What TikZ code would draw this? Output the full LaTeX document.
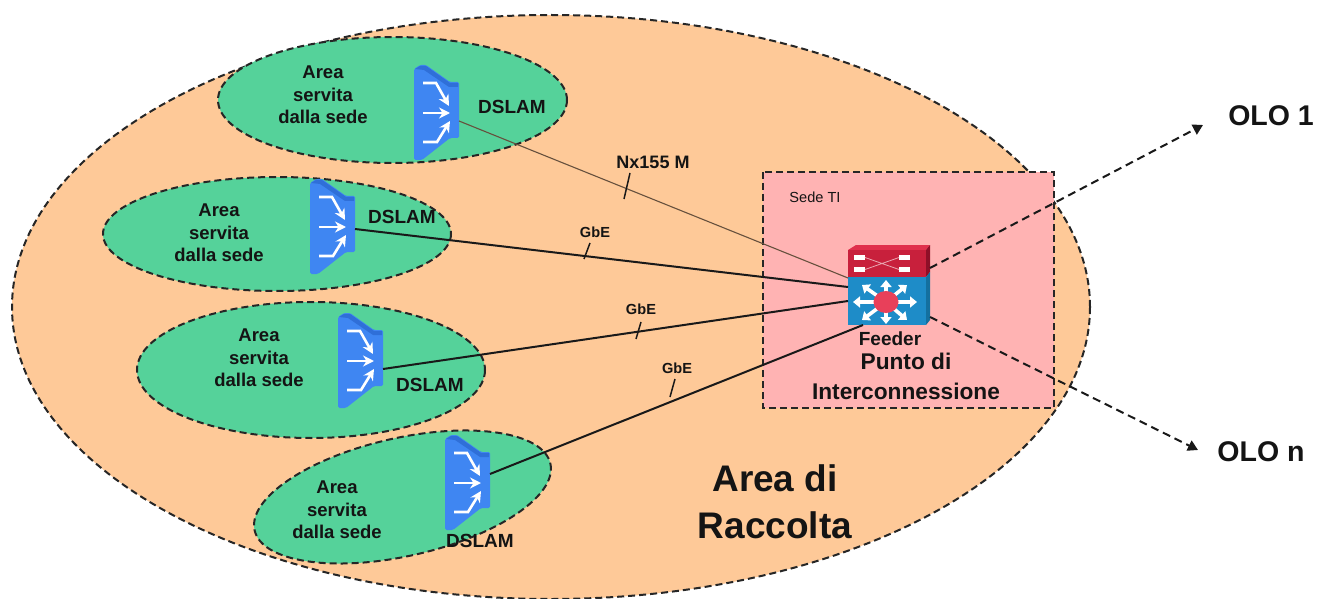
\documentclass[tikz,border=0pt]{standalone}
\usepackage{fontspec}
\setmainfont{Liberation Sans}
\usetikzlibrary{arrows.meta}
\definecolor{areaorange}{HTML}{FEC998}
\definecolor{areagreen}{HTML}{55D29A}
\definecolor{sedepink}{HTML}{FFB3B3}
\definecolor{iconblue}{HTML}{3F86F2}
\definecolor{iconbevel}{HTML}{2F6FD8}
\definecolor{swblue}{HTML}{1E8CC8}
\definecolor{swside}{HTML}{14709F}
\definecolor{swred}{HTML}{C8203C}
\definecolor{swtop}{HTML}{E0304C}
\definecolor{swdark}{HTML}{8E1028}
\definecolor{hubred}{HTML}{E8405A}
\definecolor{inktext}{HTML}{141414}
\tikzset{
  x=1pt,y=-1pt,
  areashape/.style={draw=black!85,line width=2pt,dash pattern=on 7pt off 4pt},
  lbl/.style={font=\bfseries\fontsize{#1}{#1}\selectfont,inner sep=0pt,align=center,text=inktext},
  area3/.style={font=\bfseries\fontsize{18.5}{22.5}\selectfont,inner sep=0pt,align=center,text=inktext},
  whitearrow/.style={draw=white,line width=2.6pt,-{Stealth[length=11pt,width=11pt]}},
  hubarrow/.style={draw=white,line width=3.6pt,-{Triangle[length=7pt,width=11pt]}},
  link/.style={draw=black!90,line width=2pt},
  thinlink/.style={draw=black!60!areaorange,line width=1.1pt},
  tick/.style={draw=black!90,line width=1.5pt},
  dashlink/.style={draw=black!90,line width=2pt,dash pattern=on 8pt off 5pt,-{Triangle[length=10pt,width=11pt]}},
}
\newcommand{\dslamicon}[4]{%
  \begin{scope}[shift={(#1,#2)}]
    \fill[iconblue,rounded corners=1.5pt] (0,4)--(6,0)--(12,0)--(36,17)--(45,17)--(45,73)--(36,73)--(8,95)--(0,95)--cycle;
    \fill[iconbevel] (1,4)--(6,1)--(12,1)--(36,18)--(44,18)--(44,22)--(35,22)--(10,5)--cycle;
    \draw[whitearrow] (9,18)--(22,18)--(35,41);
    \draw[whitearrow] (9,48)--(36,48);
    \draw[whitearrow] (9,77)--(23,77)--(36,56);
    \coordinate (#3) at (45,#4);
  \end{scope}}
\begin{document}
\begin{tikzpicture}
\useasboundingbox (0,0) rectangle (1318,599);
\fill[white] (0,0) rectangle (1318,599);
\draw[areashape,fill=areaorange] (551,307) ellipse [x radius=539,y radius=292];
\draw[areashape,fill=areagreen] (392.5,100) ellipse [x radius=174.5,y radius=63];
\draw[areashape,fill=areagreen] (277,234) ellipse [x radius=174,y radius=57];
\draw[areashape,fill=areagreen] (311,370) ellipse [x radius=174,y radius=68];
\draw[areashape,fill=areagreen,rotate around={12.7:(402.5,497)}] (402.5,497) ellipse [x radius=151.6,y radius=59];
\draw[areashape,fill=sedepink] (763,172) rectangle (1054,408);

\dslamicon{414}{65}{d1}{56}
\dslamicon{310}{179}{d2}{50}
\dslamicon{338}{313}{d3}{56}
\dslamicon{445}{435}{d4}{39}

% switch
\fill[swtop] (848,250)--(856,245)--(930,245)--(926,250)--cycle;
\fill[swred] (848,250) rectangle (926,277);
\fill[swdark] (926,250)--(930,245)--(930,272)--(926,277)--cycle;
\fill[swblue] (848,277) rectangle (926,325);
\fill[swside] (926,277)--(930,272)--(930,320)--(926,325)--cycle;
\foreach \a/\b in {854/255, 854/267, 899/255, 899/267}
  \fill[white] (\a,\b) rectangle (\a+11,\b+5);
\draw[white!60!swred,line width=.8pt] (865,257.5)--(899,269.5) (865,269.5)--(899,257.5);
\coordinate (swA) at (848,278);
\coordinate (swB) at (848,287);
\coordinate (swC) at (848,301);
\coordinate (swD) at (863,325);
\coordinate (swE) at (930,268);
\coordinate (swF) at (930,317);
\foreach \ex/\ey in {917/302, 853/302, 886/280, 886/324, 907/285, 862/285, 907/320, 862/320}
  \draw[hubarrow] (886,302)--(\ex,\ey);
\fill[hubred] (886,302) ellipse [x radius=12.5,y radius=11];
\node[inner sep=0pt,minimum size=0pt] (hub) at (886,302) {};

\coordinate (olo1) at (1203,125);
\coordinate (olon) at (1198,450);
\draw[thinlink] (d1)--(swA);
\draw[link] (d2)--(swB);
\draw[link] (d3)--(swC);
\draw[link] (d4)--(swD);
\draw[dashlink] (swE)--(olo1);
\draw[dashlink] (swF)--(olon);

\coordinate (t1a) at (624,199); \coordinate (t1b) at (630,173);
\coordinate (t2a) at (584,259); \coordinate (t2b) at (590,243);
\coordinate (t3a) at (636,339); \coordinate (t3b) at (641,322);
\coordinate (t4a) at (670,397); \coordinate (t4b) at (675,379);
\draw[tick] (t1a)--(t1b);
\draw[tick] (t2a)--(t2b);
\draw[tick] (t3a)--(t3b);
\draw[tick] (t4a)--(t4b);

\node[area3] (a1) at (323,95) {Area\\servita\\dalla sede};
\node[area3] (a2) at (219,233) {Area\\servita\\dalla sede};
\node[area3] (a3) at (259,358) {Area\\servita\\dalla sede};
\node[area3] (a4) at (337,510) {Area\\servita\\dalla sede};
\node[lbl=19] (l1) at (512,107) {DSLAM};
\node[lbl=19] (l2) at (402,217) {DSLAM};
\node[lbl=19] (l3) at (430,385) {DSLAM};
\node[lbl=19] (l4) at (480,541) {DSLAM};
\node[lbl=18] (n1) at (653,162) {Nx155 M};
\node[lbl=14.6] (g1) at (595,232) {GbE};
\node[lbl=14.6] (g2) at (641,309) {GbE};
\node[lbl=14.6] (g3) at (677,368) {GbE};
\node[inner sep=0pt,text=inktext,font=\fontsize{14.6}{14.6}\selectfont] (sede) at (815,197) {Sede TI};
\node[lbl=19] (feeder) at (890,339) {Feeder};
\node[font=\bfseries\fontsize{22.7}{30}\selectfont,inner sep=0pt,align=center,text=inktext] (punto) at (906,376) {Punto di\\Interconnessione};
\node[font=\bfseries\fontsize{37}{47}\selectfont,inner sep=0pt,align=center,text=inktext] (racc) at (775,502) {Area di\\Raccolta};
\node[lbl=28.5] (o1) at (1271,116) {OLO 1};
\node[lbl=28.5] (on) at (1261,452) {OLO n};
\end{tikzpicture}
\end{document}
